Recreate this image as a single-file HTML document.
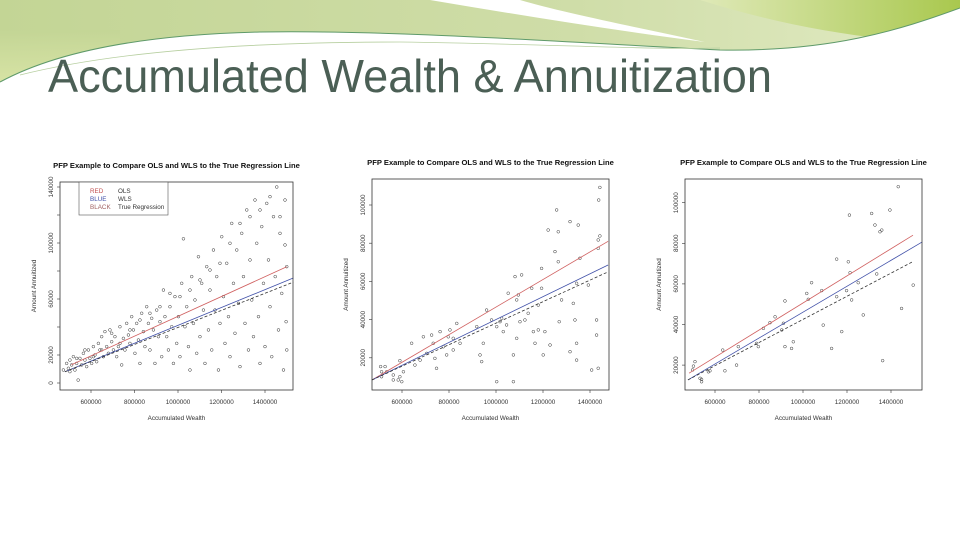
<!DOCTYPE html>
<html><head><meta charset="utf-8"><style>
html,body{margin:0;padding:0;background:#fff;}
svg{display:block;font-family:"Liberation Sans",Arial,sans-serif;}
</style></head><body>
<svg id="slide" width="960" height="540" viewBox="0 0 960 540" xmlns="http://www.w3.org/2000/svg">
<defs>
<linearGradient id="g1" x1="0" y1="0" x2="1" y2="0"><stop offset="0" stop-color="#c3d595"/><stop offset="0.6" stop-color="#cfdda8"/><stop offset="1" stop-color="#e2ebc4"/></linearGradient>
<linearGradient id="g2" x1="0" y1="0" x2="1" y2="0"><stop offset="0" stop-color="#dfe9b8"/><stop offset="1" stop-color="#a9c84e"/></linearGradient>
<linearGradient id="g3" x1="0" y1="0" x2="0" y2="1"><stop offset="0" stop-color="#c3d595"/><stop offset="1" stop-color="#e6eeb0"/></linearGradient>
</defs>
<g>
<rect x="0" y="0" width="960" height="95" fill="url(#g1)"/>
<rect x="0" y="30" width="120" height="65" fill="url(#g3)" opacity="0.7"/>
<path d="M700,0 C780,25 860,40 960,45 L960,0 Z" fill="url(#g2)"/>
<path d="M430,0 C520,15 610,30 705,42 C640,28 560,12 520,0 Z" fill="#ffffff"/>
<path d="M0,82 C50,55 130,35 260,32 C400,30 560,42 720,50 C830,52 900,30 960,8 L960,540 L0,540 Z" fill="#ffffff"/>
<path d="M0,82 C50,55 130,35 260,32 C400,30 560,42 720,50 C830,52 900,30 960,8" fill="none" stroke="#5f9a6a" stroke-width="1"/>
<path d="M20,75 C120,50 260,42 400,42 C550,44 650,50 720,48" fill="none" stroke="#b7cfa0" stroke-width="0.8"/>
</g>
<text x="48" y="92" font-size="46" fill="#4b5f55" textLength="724" lengthAdjust="spacingAndGlyphs">Accumulated Wealth &amp; Annuitization</text>
<g id="charts"></g>
</svg>
<script>
// Panel 1 data (x in thousands of $ wealth, y in thousands annuitized)
const p1X = [473,488,496,503,511,519,526,534,541,549,557,565,572,580,588,595,603,611,618,626,634,641,649,657,664,672,680,687,695,703,710,718,726,733,741,749,756,764,772,779,787,795,802,810,818,825,833,841,848,856,864,871,879,887,894,902,910,917,925,933,940,948,956,963,971,979,986,994,1002,1009,1017,1025,1032,1040,1048,1055,1063,1071,1078,1086,1094,1101,1109,1117,1124,1132,1140,1147,1155,1163,1170,1178,1186,1193,1201,1209,1216,1224,1232,1239,1247,1255,1262,1270,1278,1285,1293,1301,1308,1316,1324,1331,1339,1347,1354,1362,1370,1377,1385,1393,1400,1408,1416,1423,1431,1439,1447,1454,1462,1469,1477,1485,1492,1492,1497,1500,1500,503,534,572,611,649,695,733,779,825,871,917,963,1009,1055,1101,1147,1193,1239,1285,1331,1377,1423,1469];
const p1Y = [9.3,14,10.5,16.4,12.9,18.8,9.3,14,2.1,17.6,12.9,21.2,16.4,11.7,23.6,17.6,14,26,20,15.2,28.3,23.6,33.1,18.8,36.7,26,21.2,37.9,29.5,23.6,33.1,18.8,26,40.2,12.9,31.9,23.6,42.6,34.3,28.3,47.4,37.9,21.2,42.6,30.7,14,49.8,36.7,26,54.5,42.6,23.6,46.2,37.9,14,52.1,33.1,43.8,18.8,66.4,47.4,33.1,23.6,54.5,40.2,14,61.7,28.3,47.4,18.8,71.2,103,40.2,54.5,26,9.3,76,42.6,59.3,21.2,90.2,33.1,71.2,52.1,14,83.1,37.9,66.4,23.6,95,52.1,76,9.3,42.6,104.5,61.7,28.3,85.5,47.4,18.8,114,71.2,35.5,95,56.9,11.7,106.9,76,42.6,123.6,23.6,87.9,59.3,33.1,130.7,99.8,47.4,14,111.7,71.2,26,128.3,87.9,54.5,18.8,118.8,76,140,37.9,106.9,64,9.3,130.7,98.6,43.8,83.1,23.6,8.1,17.6,23.6,18.8,23.6,35.5,28.3,37.9,45,49.8,54.5,64,61.7,66.4,73.6,80.7,85.5,99.8,114,118.8,123.6,133.1,118.8];
const p1Ols = [[510,13],[1500,83]];
const p1Wls = [[480,8],[1530,75]];
const p1True = [[480,8],[1530,72]];
const p1YTicks = [0,20,40,60,80,100,120,140];
const p1YLabels = ["0","20000","","60000","","100000","","140000"];

// Panel 2 data
const p2X = [509,528,513,513,535,563,591,591,584,599,606,563,641,655,677,691,705,726,733,740,762,776,747,797,804,790,818,833,847,818,918,932,939,946,960,981,1003,1003,1017,1024,1031,1045,1052,1074,1088,1074,1081,1088,1095,1109,1102,1123,1137,1159,1152,1166,1180,1180,1194,1194,1201,1208,1222,1230,1251,1258,1265,1269,1279,1265,1315,1315,1329,1336,1343,1343,1350,1343,1357,1393,1407,1428,1435,1428,1435,1435,1437,1442,1442];
const p2Y = [15.4,15.4,12.7,10.1,12.7,11,18.5,10.1,8.4,7.5,12.7,8.4,27.6,16.2,18.8,31,22.3,31.9,27.6,19.7,33.7,25.8,14.5,31,34.6,21.5,24.1,38,27.6,30.2,36.3,21.5,18,27.6,45,39.8,36.3,7.5,38.9,40.7,33.7,37.2,53.8,21.5,30.2,7.5,62.5,50.3,52.9,63.4,38.9,39.8,43.3,33.7,56.4,27.6,34.6,47.6,66.8,56.4,21.5,33.7,86.9,26.7,75.6,97.4,86,38.9,50.3,70.3,23.2,91.3,48.5,39.8,18.8,59,89.5,27.6,72.1,58.1,13.6,31.9,14.5,39.8,77.3,81.7,102.6,109.2,83.8];
const p2Ols = [[472,8.4],[1477,81]];
const p2Wls = [[472,8.4],[1477,68.6]];
const p2True = [[472,8.4],[1477,65]];
const p2YTicks = [20,40,60,80,100];
const p2YLabels = ["20000","40000","60000","80000","100000"];

// Panel 3 data
const p3X = [502,509,498,532,539,539,570,577,635,645,698,706,789,797,820,850,873,903,911,918,918,948,956,1017,1024,1039,1085,1092,1130,1153,1153,1176,1198,1206,1214,1221,1251,1274,1312,1327,1335,1350,1358,1362,1395,1433,1448,1501,1211];
const p3Y = [19.5,21.7,17.6,13.5,11.8,13,16.7,17.2,27.4,17.2,20,29.1,30.7,29.1,38.1,40.9,43.8,37.3,40.6,51.6,29.1,28.2,31.5,55.3,52.4,60.6,56.7,39.7,28.2,72.2,53.7,36.5,56.7,70.9,65.5,52.1,60.6,44.7,94.7,89,64.9,85.7,86.5,22.2,96.4,107.9,47.9,59.4,93.9];
const p3Ols = [[482,16],[1500,84]];
const p3Wls = [[477,12.7],[1541,80.6]];
const p3True = [[477,12.7],[1500,71]];
const p3YTicks = [20,40,60,80,100];
const p3YLabels = ["20000","40000","60000","80000","100000"];

const xTicks = [600,800,1000,1200,1400];
const xLabels = ["600000","800000","1000000","1200000","1400000"];

const NS = "http://www.w3.org/2000/svg";
const root = document.getElementById('charts');
function mk(tag, attrs, parent){
  const e = document.createElementNS(NS, tag);
  for (const k in attrs) e.setAttribute(k, attrs[k]);
  parent.appendChild(e);
  return e;
}
function panel(id, cfg, xs, ys, ols, wls, tru, yT, yL, legend){
  const g = mk('g', {}, root);
  
  
  const sx = v => cfg.x600 + (v - 600) * cfg.kx;
  const sy = v => cfg.y0 - v * cfg.ky;
  const B = cfg.box;
  const t = mk('text', {x:(B[0]+B[2])/2, y:B[1]-14, 'font-size':7.6, 'font-weight':'bold', 'text-anchor':'middle', fill:'#111'}, g);
  t.textContent = 'PFP Example to Compare OLS and WLS to the True Regression Line';
  
  
  const pg = mk('g', {fill:'none', stroke:'#333', 'stroke-width':0.5}, g);
  
  
  for (let i = 0; i < xs.length; i++){
    const c = mk('circle', {cx:sx(xs[i]), cy:sy(ys[i]), r:1.4}, pg);
    
    
  }
  const lines = [[ols,'#d06060','none','ols-line'],[wls,'#4050a8','none','wls-line'],[tru,'#333','3,2','true-regression-line']];
  for (const L of lines){
    const ln = mk('line', {x1:sx(L[0][0][0]), y1:sy(L[0][0][1]), x2:sx(L[0][1][0]), y2:sy(L[0][1][1]), stroke:L[1], 'stroke-width':0.8, 'stroke-dasharray':L[2]}, g);
    
    
  }
  const bx = mk('rect', {x:B[0], y:B[1], width:B[2]-B[0], height:B[3]-B[1], fill:'none', stroke:'#333', 'stroke-width':0.8}, g);
  
  
  const xa = mk('g', {}, g);
  
  
  xTicks.forEach((v, i) => {
    mk('line', {x1:sx(v), x2:sx(v), y1:B[3], y2:B[3]+3, stroke:'#333', 'stroke-width':0.6}, xa);
    const tl = mk('text', {x:sx(v), y:B[3]+14, 'font-size':6.3, 'text-anchor':'middle', fill:'#333'}, xa);
    tl.textContent = xLabels[i];
    
    
  });
  const xt = mk('text', {x:(B[0]+B[2])/2, y:B[3]+30, 'font-size':6.3, 'text-anchor':'middle', fill:'#333'}, g);
  xt.textContent = 'Accumulated Wealth';
  
  
  const ya = mk('g', {}, g);
  
  
  yT.forEach((v, i) => {
    mk('line', {x1:B[0]-3, x2:B[0], y1:sy(v), y2:sy(v), stroke:'#333', 'stroke-width':0.6}, ya);
    if (yL[i]){
      const yl = mk('text', {x:0, y:0, transform:`translate(${B[0]-7},${sy(v)}) rotate(-90)`, 'font-size':6.3, 'text-anchor':'middle', fill:'#333'}, ya);
      yl.textContent = yL[i];
      
      
    }
  });
  const yt = mk('text', {x:0, y:0, transform:`translate(${B[0]-24},${(B[1]+B[3])/2}) rotate(-90)`, 'font-size':6.3, 'text-anchor':'middle', fill:'#333'}, g);
  yt.textContent = 'Amount Annuitized';
  
  
  if (legend){
    const lg = mk('g', {}, g);
    
    
    mk('rect', {x:79, y:182, width:89, height:33, fill:'#fff', 'fill-opacity':0.6, stroke:'#555', 'stroke-width':0.6}, lg);
    const rows = [['RED','OLS','#c05050'],['BLUE','WLS','#4050a8'],['BLACK','True Regression','#a06060']];
    rows.forEach((r, i) => {
      const a = mk('text', {x:90, y:193+i*8, 'font-size':6.3, fill:r[2]}, lg);
      a.textContent = r[0];
      
      
      const b = mk('text', {x:118, y:193+i*8, 'font-size':6.3, fill:'#333'}, lg);
      b.textContent = r[1];
      
      
    });
  }
}
panel('chart-panel-1', {box:[60,182,293,390], x600:91, kx:0.2175, y0:383, ky:1.4}, p1X, p1Y, p1Ols, p1Wls, p1True, p1YTicks, p1YLabels, true);
panel('chart-panel-2', {box:[372,179,609,390], x600:402, kx:0.235, y0:396, ky:1.91}, p2X, p2Y, p2Ols, p2Wls, p2True, p2YTicks, p2YLabels, false);
panel('chart-panel-3', {box:[685,179,922,390], x600:715, kx:0.22, y0:405.7, ky:2.03}, p3X, p3Y, p3Ols, p3Wls, p3True, p3YTicks, p3YLabels, false);
</script>
</body></html>
